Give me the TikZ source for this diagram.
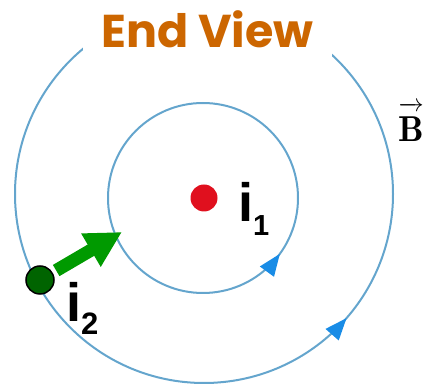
\documentclass[tikz,border=0pt]{standalone}
\usepackage{fontspec}
\usepackage{amsmath}
\usepackage{xcolor}
\usetikzlibrary{arrows.meta, positioning, decorations.markings}
\newfontfamily\titlefont{Poppins}
\newfontfamily\labelfont{Liberation Sans}
\definecolor{FieldBlue}{RGB}{100,165,205}
\definecolor{TipBlue}{RGB}{25,140,230}
\definecolor{TitleOrange}{HTML}{CC6600}
\definecolor{WireRed}{HTML}{E0101E}
\definecolor{WireGreen}{HTML}{006400}
\definecolor{PushGreen}{HTML}{009A00}

\begin{document}
\begin{tikzpicture}[
            x=1pt, y=1pt,
            >=Stealth,
            fieldline/.style = {draw=FieldBlue, line width=2pt, postaction={decorate}},
            title/.style = {rectangle, fill=white, inner sep=0pt, minimum width=249pt, text height=48pt, text depth=19pt, font=\fontsize{46}{46}\titlefont\bfseries, text=TitleOrange},
            current/.style = {font=\fontsize{54}{54}\labelfont\bfseries, text=black, inner sep=0pt, anchor=base west},
            wire/.style = {circle, inner sep=0pt, minimum size=#1},
            push/.style = {draw=PushGreen, line width=13pt, -{Triangle[length=36pt, width=36pt]}, shorten <=4pt}
        ]
            \useasboundingbox (0,0) rectangle (426,388);
            % field circles with direction marks
            \coordinate (c1) at (203,190);
            \coordinate (c2) at (204,194);
            \draw [fieldline, decoration={markings, mark=at position 0.886 with {\arrow[TipBlue]{Triangle[length=22pt, width=17pt]}}}] (c2) circle[radius=189];
            \draw [fieldline, decoration={markings, mark=at position 0.90 with {\arrow[TipBlue]{Triangle[length=22pt, width=17pt]}}}] (c1) circle[radius=95];
            \node [title, anchor=south] (head) at (207.5,321) {End View};
            % wires
            \node [wire=27pt, fill=WireRed] (i1dot) at (204,190) {};
            \node [current] (i1) at (238,166) {i\raisebox{-14pt}{\fontsize{29}{29}\selectfont 1}};
            \node [wire=28pt, draw=black, line width=1.5pt, fill=WireGreen] (i2dot) at (40,108) {};
            \node [current] (i2) at (66,66) {i\raisebox{-13pt}{\fontsize{31}{31}\selectfont 2}};
            \coordinate (hit) at (122,156);
            \draw [push] (i2dot) -- (hit);
            \node [anchor=base, inner sep=0pt, font=\fontsize{36}{36}\selectfont] (field) at (411,246) {$\overrightarrow{\mathbf{B}\rule{0pt}{30pt}}$};
        \end{tikzpicture}
\end{document}
